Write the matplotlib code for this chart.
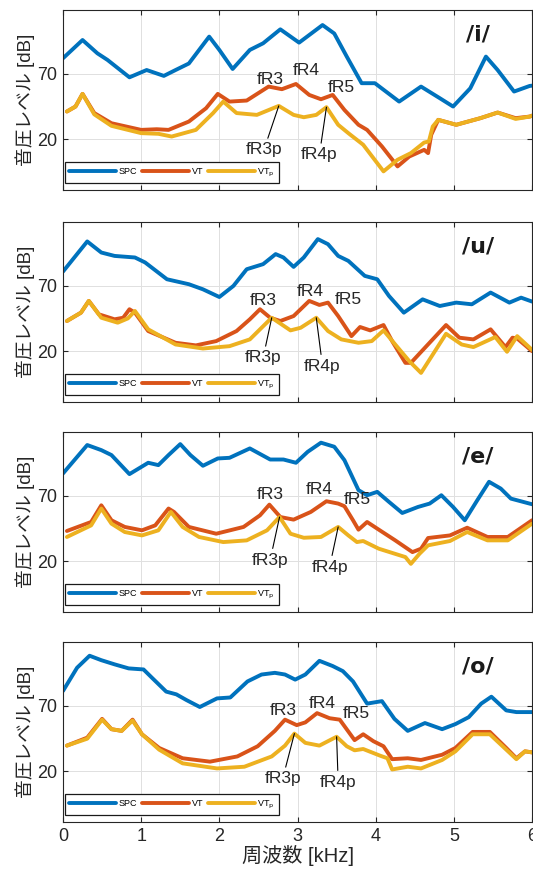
import numpy as np
import matplotlib
matplotlib.use('Agg')
from matplotlib import pyplot as plt

plt.rcParams['font.family'] = ['Liberation Sans', 'Noto Sans CJK JP', 'DejaVu Sans']

vowels = ['/i/', '/u/', '/e/', '/o/']
series_names = ['SPC', 'VT', 'VT$_\\mathrm{p}$']

# (kHz, dB)
i_spc = [(0.0, 82), (0.25, 96), (0.44, 85.8), (0.57, 80.7), (0.85, 67.4), (1.07, 73), (1.29, 68.5),
         (1.44, 73), (1.61, 78), (1.87, 98.6), (2.0, 88.4), (2.17, 73.8), (2.39, 88.4), (2.56, 93.5),
         (2.78, 104.2), (3.02, 94), (3.32, 107.5), (3.47, 101), (3.63, 83.3), (3.82, 62.9), (3.99, 62.9),
         (4.30, 48.8), (4.58, 60.3), (4.82, 51.4), (4.99, 45), (5.21, 59), (5.41, 83.3), (5.56, 73),
         (5.77, 56.5), (5.97, 60.8), (6.0, 61)]
i_vt = [(0.05, 41.2), (0.16, 45), (0.25, 54.7), (0.40, 40), (0.62, 32.2), (1.0, 27.1), (1.2, 27.6),
        (1.35, 27.1), (1.61, 33.5), (1.83, 43.7), (1.98, 54.7), (2.13, 48.8), (2.35, 49.6), (2.63, 60.3),
        (2.80, 58.3), (2.98, 62.3), (3.15, 53.9), (3.30, 50.6), (3.45, 53.9), (3.60, 42.4), (3.78, 31),
        (3.89, 27.1), (4.08, 14.4), (4.28, -0.9), (4.43, 6.7), (4.62, 11.8), (4.67, 9.3), (4.71, 23.3),
        (4.80, 34.8), (5.03, 31), (5.34, 36.1), (5.56, 40.4), (5.79, 36.1), (5.97, 37.3), (6.0, 38)]
i_vtp = [(0.05, 41.2), (0.16, 45), (0.25, 54.7), (0.40, 39), (0.62, 30.2), (1.0, 24.6), (1.22, 24.1),
         (1.39, 22), (1.70, 27.1), (1.92, 40), (2.05, 48.8), (2.22, 40), (2.48, 38.6), (2.76, 45.5),
         (2.95, 38.6), (3.08, 36.8), (3.24, 38.6), (3.37, 44.5), (3.52, 31), (3.65, 24.6), (3.84, 15.7),
         (4.10, -4.7), (4.28, 4.2), (4.45, 9.3), (4.62, 17.4), (4.68, 18.2), (4.73, 29.7), (4.80, 34.8),
         (5.03, 31), (5.34, 36.1), (5.56, 40.4), (5.79, 35.5), (5.97, 37.3), (6.0, 38)]

u_spc = [(0.0, 81), (0.31, 104.1), (0.49, 95.6), (0.66, 93), (0.92, 91.8), (1.05, 88), (1.33, 75.1),
         (1.61, 71.3), (1.79, 67.4), (2.0, 61.5), (2.18, 70), (2.35, 82.8), (2.56, 86.7), (2.72, 94.4),
         (2.82, 91.8), (2.95, 84.6), (3.08, 91.8), (3.26, 105.9), (3.39, 102), (3.52, 93), (3.65, 89.2),
         (3.86, 77.7), (4.02, 75.1), (4.17, 62.3), (4.36, 49.5), (4.60, 59.7), (4.82, 54.6), (5.03, 57.2),
         (5.23, 55.9), (5.47, 64.9), (5.71, 57.2), (5.86, 61), (6.0, 58)]
u_vt = [(0.05, 43.1), (0.23, 49.5), (0.33, 58.5), (0.46, 48.2), (0.66, 44.4), (0.77, 45.6), (0.85, 52.1),
        (0.92, 49.5), (1.09, 35.4), (1.44, 26.4), (1.70, 24.4), (1.96, 27.7), (2.22, 35.4), (2.39, 44.4),
        (2.52, 52.1), (2.65, 45.6), (2.78, 43.1), (2.95, 46.9), (3.15, 58.5), (3.28, 55.4), (3.39, 57.2),
        (3.52, 46.9), (3.69, 31.5), (3.80, 38.5), (3.93, 35.9), (4.10, 40), (4.21, 27.7), (4.38, 11),
        (4.45, 11), (4.90, 40), (5.07, 30.3), (5.25, 29), (5.47, 36.7), (5.66, 23.1), (5.75, 30.3),
        (5.81, 29.7), (6.0, 20)]
u_vtp = [(0.05, 43.1), (0.23, 49.5), (0.33, 58.5), (0.49, 45.6), (0.70, 41.8), (0.83, 45.1), (0.92, 50.8),
         (1.09, 36.7), (1.44, 25.1), (1.79, 22), (2.13, 23.8), (2.39, 29), (2.67, 45.6), (2.91, 35.9),
         (3.04, 37.9), (3.24, 45.6), (3.39, 35.4), (3.56, 29), (3.78, 26.4), (3.95, 27.7), (4.10, 35.9),
         (4.25, 25.1), (4.43, 12.3), (4.58, 3.3), (4.90, 33.3), (5.10, 25.1), (5.25, 23.1), (5.53, 30.8),
         (5.68, 19.5), (5.81, 31.5), (6.0, 21)]

e_spc = [(0.0, 87.2), (0.31, 109), (0.49, 105.1), (0.62, 101.3), (0.85, 86.7), (1.09, 95.4), (1.22, 93.6),
         (1.35, 101.3), (1.50, 109.7), (1.63, 101.3), (1.79, 93.1), (1.98, 98.7), (2.13, 99.2), (2.39, 106.4),
         (2.65, 97.9), (2.82, 97.9), (2.98, 95.4), (3.13, 103.8), (3.30, 110.8), (3.47, 107.7), (3.60, 97.4),
         (3.78, 74.4), (3.89, 70.5), (4.02, 73.1), (4.17, 65.4), (4.34, 56.9), (4.54, 61.5), (4.69, 64.1),
         (4.84, 70.5), (4.99, 61.5), (5.14, 51.3), (5.30, 66.7), (5.45, 80.8), (5.60, 75.6), (5.73, 67.9),
         (6.0, 63.6)]
e_vt = [(0.05, 43.1), (0.36, 50), (0.49, 62.8), (0.62, 51.3), (0.79, 46.2), (1.01, 43.6), (1.18, 47.4),
        (1.35, 60.3), (1.42, 57.7), (1.61, 46.2), (1.96, 41), (2.31, 46.2), (2.52, 55.1), (2.64, 63.3),
        (2.78, 53.8), (2.95, 51.8), (3.17, 57.7), (3.37, 65.9), (3.52, 64.1), (3.60, 62.1), (3.71, 51.3),
        (3.78, 44.1), (3.89, 50), (4.04, 44.1), (4.25, 35.9), (4.47, 26.9), (4.58, 29.5), (4.67, 37.7),
        (4.95, 39.7), (5.17, 45.6), (5.43, 38.5), (5.69, 38.5), (6.0, 51.3)]
e_vtp = [(0.05, 38.5), (0.36, 47.4), (0.49, 60.3), (0.62, 48.7), (0.79, 42.3), (1.01, 39.7), (1.22, 43.6),
         (1.38, 57.7), (1.53, 46.2), (1.74, 38.5), (2.05, 34.6), (2.35, 35.9), (2.61, 43.6), (2.77, 53.8),
         (2.91, 41), (3.08, 37.9), (3.30, 38.5), (3.52, 46.2), (3.65, 39.7), (3.76, 34.6), (3.84, 35.4),
         (4.04, 29.5), (4.38, 23.1), (4.45, 17.9), (4.56, 25.6), (4.67, 32.1), (4.95, 35.4), (5.17, 42.3),
         (5.43, 35.9), (5.69, 35.9), (6.0, 48.7)]

o_spc = [(0.0, 81.5), (0.18, 99.3), (0.34, 108.5), (0.49, 105.1), (0.66, 101.9), (0.84, 98.8), (1.03, 98),
         (1.14, 91.5), (1.32, 81), (1.45, 78.9), (1.58, 74.5), (1.75, 69.2), (1.97, 75.8), (2.14, 76.5),
         (2.36, 88.8), (2.54, 94.1), (2.71, 95.4), (2.84, 94.1), (2.97, 90.2), (3.10, 94.1), (3.28, 104.6),
         (3.45, 100.6), (3.58, 96.7), (3.71, 88.8), (3.89, 71.8), (4.08, 73.7), (4.24, 60.1), (4.41, 50.9),
         (4.63, 56.9), (4.85, 52.2), (5.02, 56.1), (5.19, 61.4), (5.35, 71.8), (5.48, 77.1), (5.67, 66.6),
         (5.80, 65.3), (6.0, 65.3)]
o_vt = [(0.05, 39.6), (0.31, 45.7), (0.50, 60.1), (0.62, 52.2), (0.75, 50.9), (0.89, 59.5), (1.01, 48.3),
        (1.23, 37.8), (1.53, 29.9), (1.88, 27.3), (2.23, 31.3), (2.49, 39.1), (2.71, 50.9), (2.84, 59.5),
        (2.99, 55.3), (3.10, 57.4), (3.25, 64.5), (3.41, 60.6), (3.54, 59.5), (3.73, 43.8), (3.84, 48.3),
        (3.97, 43), (4.10, 39.1), (4.21, 29.2), (4.41, 29.9), (4.58, 28.6), (4.85, 32.6), (5.02, 37.8),
        (5.24, 50.1), (5.46, 50.1), (5.67, 37.8), (5.80, 29.9), (5.91, 35.2), (6.0, 34.4)]
o_vtp = [(0.05, 39.6), (0.31, 44.9), (0.50, 59.5), (0.62, 52.2), (0.75, 50.9), (0.89, 58.8), (1.01, 48.3),
         (1.23, 36.5), (1.53, 26), (1.97, 22.1), (2.32, 23.4), (2.67, 31.3), (2.84, 39.6), (2.96, 48.8),
         (3.10, 41.7), (3.28, 39.6), (3.50, 46.4), (3.63, 39.1), (3.73, 36), (3.84, 37), (4.06, 31.8),
         (4.15, 29.9), (4.21, 21.3), (4.41, 23.4), (4.58, 22.1), (4.85, 28.6), (5.02, 35.2), (5.24, 48.3),
         (5.46, 48.3), (5.67, 36.5), (5.80, 29.2), (5.91, 35.2), (6.0, 34.4)]

x_ticks = [0, 1, 2, 3, 4, 5, 6]
y_ticks = [20, 70]

panels = [(i_spc, i_vt, i_vtp), (u_spc, u_vt, u_vtp), (e_spc, e_vt, e_vtp), (o_spc, o_vt, o_vtp)]

# label placement: (text, x, y) and (text, text_xy, peak_xy)
peak_labels = [
    [('fR3', 2.65, 65.4), ('fR4', 3.11, 72.3), ('fR5', 3.56, 59.8)],
    [('fR3', 2.56, 59), ('fR4', 3.16, 65.4), ('fR5', 3.65, 59.7)],
    [('fR3', 2.65, 71.3), ('fR4', 3.28, 74.9), ('fR5', 3.76, 67.2)],
    [('fR3', 2.82, 66.6), ('fR4', 3.31, 71.8), ('fR5', 3.75, 64.5)],
]
pointer_labels = [
    [('fR3p', (2.57, 11.8), (2.76, 45.5)), ('fR4p', (3.28, 8), (3.37, 44.5))],
    [('fR3p', (2.56, 14.9), (2.67, 45.6)), ('fR4p', (3.32, 8.5), (3.24, 45.6))],
    [('fR3p', (2.65, 20.8), (2.77, 53.8)), ('fR4p', (3.41, 15.4), (3.52, 46.2))],
    [('fR3p', (2.81, 14.2), (2.96, 48.8)), ('fR4p', (3.52, 11.6), (3.50, 46.4))],
]

colors = ['#0072BD', '#D95319', '#EDB120']

fig = plt.figure(figsize=(5.33, 8.72), dpi=100)
bottoms = [0.7821, 0.539, 0.2982, 0.0573]

for k, (vowel, data) in enumerate(zip(vowels, panels)):
    ax = fig.add_axes([0.1182, bottoms[k], 0.880, 0.2064])
    for c, (name, pts) in enumerate(zip(series_names, data)):
        arr = np.array(pts)
        ax.plot(arr[:, 0], arr[:, 1], color=colors[c], lw=2.8, label=name,
                solid_joinstyle='round', solid_capstyle='round')

    for txt, x, y in peak_labels[k]:
        ax.text(x, y, txt, ha='center', va='center', fontsize=12.5, color='0.15', zorder=5)
    for txt, txy, pxy in pointer_labels[k]:
        ax.annotate(txt, xy=pxy, xytext=txy, ha='center', va='center', fontsize=12.5, color='0.15',
                    arrowprops=dict(arrowstyle='-', color='k', lw=0.8, shrinkA=1, shrinkB=0), zorder=5)

    ax.text(0.885, 0.865, vowel, transform=ax.transAxes, ha='center', va='center',
            fontsize=16, fontweight='bold', color='0.1', family='DejaVu Sans')

    ax.set_xlim(0, 6)
    ax.set_ylim(-19, 119)
    ax.set_xticks(x_ticks)
    ax.set_yticks(y_ticks)
    ax.grid(True, color='0.88', lw=0.7)
    ax.set_axisbelow(True)
    ax.tick_params(direction='in', length=3.5, width=0.8, top=True, right=True,
                   labelsize=13, colors='0.15', pad=4)
    for sp in ax.spines.values():
        sp.set_color('0.15')
        sp.set_linewidth(0.8)
    ax.set_ylabel('音圧レベル [dB]', fontsize=13.5, color='0.15', labelpad=2)
    if k < 3:
        ax.set_xticklabels([])
    else:
        ax.set_xlabel('周波数 [kHz]', fontsize=14.5, color='0.15', labelpad=0)

    leg = ax.legend(loc='lower left', bbox_to_anchor=(0.004, 0.038), borderaxespad=0, ncol=3,
                    fontsize=6.5, handlelength=5.2, handletextpad=0.3, columnspacing=0.5,
                    fancybox=False, edgecolor='0.1', framealpha=1, borderpad=0.5)
    leg.get_frame().set_linewidth(0.9)

fig.savefig('out.png', dpi=100)
